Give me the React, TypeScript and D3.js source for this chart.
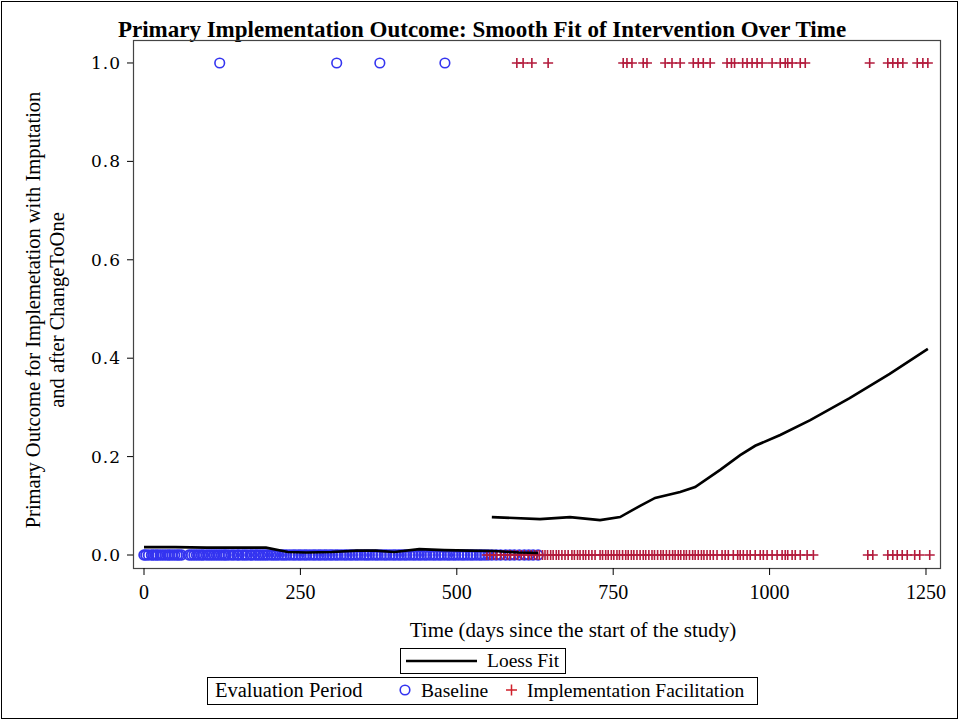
import * as React from "react";
import * as d3 from "d3";

// observations at outcome = 1
const baselineOnes = [121, 308, 377, 481];
const facilOnes = [
  596, 606, 620, 646, 766, 772, 780, 798, 804, 833, 844, 857, 878, 886, 894, 905,
  932, 939, 944, 957, 964, 972, 980, 988, 1004, 1017, 1025, 1029, 1036, 1049, 1057,
  1160, 1189, 1197, 1205, 1213, 1236, 1245, 1253,
];

// observations at outcome = 0
const baselineZeros = [
  0, 3, 7, 12, 15, 19, 22, 26, 30, 34, 38, 41, 45, 49, 53, 56, 60, 72, 76, 80, 84,
  88, 92, 95, 100, 104, 108, 112, 116, 120, 124, 128, 131, 135, 140, 144, 149, 152,
  157, 161, 165, 170, 173, 178, 182, 186, 190, 194, 198, 203, 207, 211, 215, 220,
  224, 228, 233, 238, 242, 247, 251, 256, 260, 265, 270, 274, 279, 283, 288, 292,
  297, 301, 306, 310, 315, 320, 324, 329, 333, 338, 342, 347, 352, 356, 360, 365,
  370, 374, 379, 384, 388, 393, 398, 402, 407, 411, 416, 420, 425, 430, 434, 439,
  443, 448, 452, 457, 462, 466, 471, 475, 480, 485, 489, 494, 498, 503, 508, 512,
  517, 522, 526, 531, 536, 540, 545, 550, 556, 563, 570, 578, 585, 592, 600, 608,
  615, 622, 630,
];
const facilZeros = [
  548, 553, 559, 564, 570, 575, 581, 586, 592, 597, 603, 608, 614, 619, 624, 628,
  632, 637, 641, 645, 650, 654, 659, 663, 668, 673, 678, 684, 688, 693, 697, 702,
  706, 711, 716, 721, 729, 733, 738, 742, 747, 751, 756, 760, 765, 770, 774, 779,
  783, 788, 793, 798, 802, 807, 812, 816, 821, 826, 830, 835, 840, 845, 849, 854,
  858, 863, 867, 872, 877, 881, 886, 891, 895, 900, 905, 910, 916, 924, 929, 934,
  942, 949, 953, 958, 964, 969, 977, 985, 990, 996, 1004, 1012, 1020, 1025, 1029,
  1036, 1041, 1049, 1060, 1070, 1157, 1165, 1189, 1197, 1204, 1212, 1220, 1232,
  1240, 1256,
];

// loess fits
const loessBaseDays = [0, 50, 100, 150, 195, 230, 260, 300, 340, 370, 400, 440, 480, 520, 560, 600, 630];
const loessBaseVals = [0.016, 0.016, 0.015, 0.015, 0.015, 0.006, 0.005, 0.006, 0.009, 0.009, 0.006, 0.012, 0.010, 0.009, 0.008, 0.005, 0.004];
const loessFacilDays = [556, 633, 681, 729, 761, 793, 817, 857, 881, 921, 953, 977, 1017, 1065, 1128, 1192, 1253];
const loessFacilVals = [0.077, 0.073, 0.077, 0.071, 0.077, 0.100, 0.116, 0.128, 0.138, 0.173, 0.203, 0.222, 0.244, 0.274, 0.319, 0.368, 0.419];

const xTicks = [0, 250, 500, 750, 1000, 1250];
const yTicks = [0, 0.2, 0.4, 0.6, 0.8, 1.0];

const BLUE = "#3434f0";
const RED = "#b31b3c";
const SERIF = "'Liberation Serif', 'Times New Roman', serif";

const App = () => {
  const W = 960;
  const H = 721;
  const left = 133, right = 941, top = 40, bottom = 568;

  const x = d3.scaleLinear().domain([-17.6, 1274]).range([left, right]);
  const y = d3.scaleLinear().domain([-0.0264, 1.0467]).range([bottom, top]);

  const line = d3
    .line<[number, number]>()
    .x(d => x(d[0]))
    .y(d => y(d[1]));

  const basePath = line(loessBaseDays.map((d, i) => [d, loessBaseVals[i]]));
  const facilPath = line(loessFacilDays.map((d, i) => [d, loessFacilVals[i]]));

  const circle = (cx: number, cy: number, key: string, sw = 1.9) => (
    <circle key={key} cx={cx} cy={cy} r={4.8} fill="none" stroke={BLUE} strokeWidth={sw} />
  );
  const plus = (cx: number, cy: number, key: string) => (
    <path key={key} d={`M${cx - 5},${cy}H${cx + 5}M${cx},${cy - 5}V${cy + 5}`} stroke={RED} strokeWidth={1.6} fill="none" />
  );

  return (
    <svg width={W} height={H} style={{ position: "absolute", left: 0, top: 0, display: "block" }}>
      <rect x={0} y={0} width={W} height={H} fill="#fff" />
      <rect x={1.5} y={1.5} width={W - 4} height={H - 4} fill="none" stroke="#000" strokeWidth={1} />

      <text x={482} y={37} textAnchor="middle" fontFamily={SERIF} fontWeight="bold" fontSize={23}>
        Primary Implementation Outcome: Smooth Fit of Intervention Over Time
      </text>

      <defs>
        <clipPath id="plotclip">
          <rect x={left} y={top} width={right - left} height={bottom - top} />
        </clipPath>
      </defs>

      <g clipPath="url(#plotclip)">
        {baselineZeros.map((d, i) => circle(x(d), y(0), "bz" + i))}
        {baselineOnes.map((d, i) => circle(x(d), y(1), "bo" + i, 1.6))}
        {facilZeros.map((d, i) => plus(x(d), y(0), "fz" + i))}
        {facilOnes.map((d, i) => plus(x(d), y(1), "fo" + i))}
        <path d={basePath || ""} fill="none" stroke="#000" strokeWidth={2.6} />
        <path d={facilPath || ""} fill="none" stroke="#000" strokeWidth={2.6} />
      </g>

      <rect x={left + 0.5} y={top + 0.5} width={right - left - 1} height={bottom - top} fill="none" stroke="#444" strokeWidth={1.2} />

      {yTicks.map(t => (
        <g key={"y" + t}>
          <line x1={left - 6} x2={left} y1={y(t)} y2={y(t)} stroke="#000" />
          <text x={left - 12} y={y(t) + 6} textAnchor="end" fontFamily="'DejaVu Serif', serif" fontSize={17} letterSpacing={1}>
            {t.toFixed(1)}
          </text>
        </g>
      ))}
      {xTicks.map(t => (
        <g key={"x" + t}>
          <line x1={x(t)} x2={x(t)} y1={bottom} y2={bottom + 7} stroke="#000" />
          <text x={x(t)} y={bottom + 31} textAnchor="middle" fontFamily={SERIF} fontSize={20}>
            {t}
          </text>
        </g>
      ))}

      <text transform="translate(40,310) rotate(-90)" textAnchor="middle" fontFamily={SERIF} fontSize={20.5}>
        Primary Outcome for Implemetation with Imputation
      </text>
      <text transform="translate(64,310) rotate(-90)" textAnchor="middle" fontFamily={SERIF} fontSize={20.5}>
        and after ChangeToOne
      </text>

      <text x={573} y={637} textAnchor="middle" fontFamily={SERIF} fontSize={21}>
        Time (days since the start of the study)
      </text>

      <rect x={400.5} y={648.5} width={165} height={25} fill="none" stroke="#000" strokeWidth={1} />
      <line x1={406} x2={477} y1={661} y2={661} stroke="#000" strokeWidth={2.6} />
      <text x={487} y={667} fontFamily={SERIF} fontSize={19.5}>Loess Fit</text>

      <rect x={207.5} y={677.5} width={550} height={27} fill="none" stroke="#000" strokeWidth={1} />
      <text x={215} y={697} fontFamily={SERIF} fontSize={20.5}>Evaluation Period</text>
      {circle(405, 690, "lc", 1.6)}
      <text x={421} y={697} fontFamily={SERIF} fontSize={19.5}>Baseline</text>
      <path d="M506,690H517M511.5,684.5V695.5" stroke="#d0202a" strokeWidth={1.5} />
      <text x={527} y={697} fontFamily={SERIF} fontSize={19.5}>Implementation Facilitation</text>
    </svg>
  );
};

export default App;
